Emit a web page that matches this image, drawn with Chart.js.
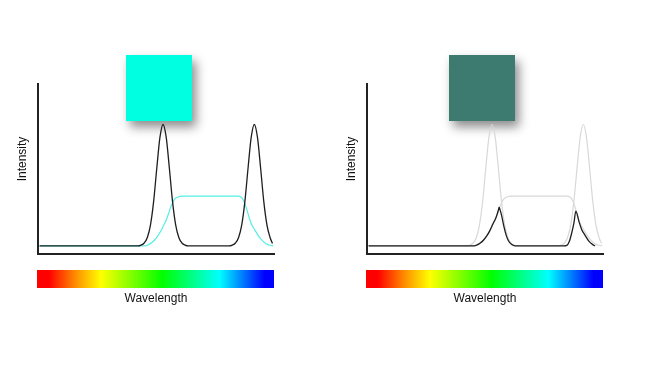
<!DOCTYPE html>
<html>
<head>
<meta charset="utf-8">
<script src="https://cdn.jsdelivr.net/npm/chart.js@4"></script>
<style>
  html, body { margin: 0; padding: 0; background: #fff; }
  #wrap { position: relative; width: 650px; height: 366px; overflow: hidden; }
  canvas { position: absolute; top: 0; }
</style>
</head>
<body>
<div id="wrap">
  <canvas id="lightPanel" width="321" height="366" style="left:0px"></canvas>
  <canvas id="filteredPanel" width="321" height="366" style="left:329px"></canvas>
</div>
<script>
// DATA (wavelength in nm, intensity in arbitrary units)
const peaksWave = [402, 527, 531, 535, 539, 543, 547, 551, 555, 559, 563, 567, 571, 575, 579, 583, 587, 591,
  643, 647, 651, 655, 659, 663, 667, 671, 675, 679, 683, 687, 691, 695, 698];
const peaksIntensity = [0, 0, 0.5, 1.8, 5.2, 13, 27.5, 48, 67, 75, 67, 48, 27.5, 13, 5.2, 1.8, 0.5, 0,
  0, 0.5, 1.8, 5.2, 13, 27.5, 48, 67, 75, 67, 48, 27.5, 13, 5.2, 1.5];

const filterWave = [402, 533, 540, 548, 552, 557, 560, 563, 566, 568, 571, 574, 578, 583, 590,
  655, 658, 661, 665, 669, 672, 676, 680, 684, 690, 695, 699];
const filterIntensity = [0, 0, 0.6, 3.5, 6, 10, 13, 16, 20, 23, 26.5, 29, 30.2, 30.8, 30.8,
  30.8, 30.2, 28.4, 23.2, 16.5, 12.8, 9.6, 6.4, 3.9, 1.3, 0.4, 0];

const passedWave = [402, 536, 540, 544, 548, 552, 556, 560, 564, 567, 568, 569, 571, 574, 577, 580, 584, 588,
  650, 654, 657, 660, 663, 665.5, 669.5, 673, 677, 682, 687, 690];
const passedIntensity = [0, 0, 0.6, 1.8, 3.5, 6, 9.3, 13.5, 17.5, 22, 24, 22.5, 19, 12, 6.5, 3, 0.8, 0,
  0, 0.3, 2.5, 7.5, 14, 21.5, 15, 10, 6.7, 3, 0.8, 0];

const spectrumStops = [[0, '#ff0000'], [0.05, '#ff0000'], [0.16, '#ff8a00'], [0.27, '#ffff00'],
  [0.53, '#00ff00'], [0.77, '#00ffff'], [0.96, '#0000ff'], [1, '#0000ff']];

Chart.defaults.font.family = "Arial, 'Liberation Sans', sans-serif";
Chart.defaults.font.size = 12;
Chart.defaults.color = '#111';

function toPoints(xs, ys) {
  return xs.map((x, i) => ({ x: x, y: ys[i] }));
}

// colour bar, swatch and y label
const panelDecor = {
  id: 'panelDecor',
  beforeDatasetsDraw(chart, args, opts) {
    const ctx = chart.ctx;
    ctx.save();
    ctx.shadowColor = 'rgba(0,0,0,0.45)';
    ctx.shadowBlur = 10;
    ctx.shadowOffsetX = 4;
    ctx.shadowOffsetY = 6;
    ctx.fillStyle = opts.swatch;
    ctx.fillRect(opts.swatchX, 55, 66, 66);
    ctx.restore();
  },
  afterDraw(chart) {
    const { ctx, chartArea, scales } = chart;
    const g = ctx.createLinearGradient(chartArea.left - 1, 0, chartArea.right, 0);
    spectrumStops.forEach(s => g.addColorStop(s[0], s[1]));
    ctx.save();
    ctx.fillStyle = g;
    ctx.fillRect(chartArea.left - 1, chartArea.bottom + 16, chartArea.right - chartArea.left + 1, 18);
    ctx.fillStyle = '#111';
    ctx.font = "12px Arial, 'Liberation Sans', sans-serif";
    ctx.textAlign = 'center';
    ctx.textBaseline = 'middle';
    ctx.translate(scales.y.left + 12, (chartArea.top + chartArea.bottom) / 2 - 10);
    ctx.rotate(-Math.PI / 2);
    ctx.fillText('Intensity', 0, 0);
    ctx.restore();
  }
};

function makePanel(id, datasets, swatch, swatchX) {
  return new Chart(document.getElementById(id).getContext('2d'), {
    type: 'line',
    data: { datasets: datasets },
    options: {
      responsive: false,
      animation: false,
      events: [],
      layout: { padding: { left: 11, right: 47, top: 84, bottom: 56 } },
      elements: {
        point: { radius: 0 },
        line: { cubicInterpolationMode: 'monotone', borderWidth: 1.3, fill: false }
      },
      scales: {
        x: {
          type: 'linear',
          min: 400,
          max: 700,
          ticks: { display: false },
          grid: { display: false },
          border: { display: true, color: '#222', width: 2 },
          title: { display: true, text: 'Wavelength', color: '#111', padding: { top: 4, bottom: 4 } },
          afterFit: s => { s.height = 56; }
        },
        y: {
          min: -5,
          max: 100,
          ticks: { display: false },
          grid: { display: false },
          border: { display: true, color: '#222', width: 2 },
          afterFit: s => { s.width = 27; }
        }
      },
      plugins: {
        legend: { display: false },
        tooltip: { enabled: false },
        panelDecor: { swatch: swatch, swatchX: swatchX }
      }
    },
    plugins: [panelDecor]
  });
}

// left: light source and filter
makePanel('lightPanel', [
  { label: 'Light', data: toPoints(peaksWave, peaksIntensity), borderColor: '#1e1e1e' },
  { label: 'Filter', data: toPoints(filterWave, filterIntensity), borderColor: '#55eee6', borderWidth: 1.2 }
], '#00ffe1', 126);

// right: what passes through
makePanel('filteredPanel', [
  { label: 'Passed', data: toPoints(passedWave, passedIntensity), borderColor: '#1e1e1e' },
  { label: 'Light', data: toPoints(peaksWave, peaksIntensity), borderColor: '#d8d8d8', borderWidth: 1.2 },
  { label: 'Filter', data: toPoints(filterWave, filterIntensity), borderColor: '#d8d8d8', borderWidth: 1.2 }
], '#3d7a70', 120);
</script>
</body>
</html>
